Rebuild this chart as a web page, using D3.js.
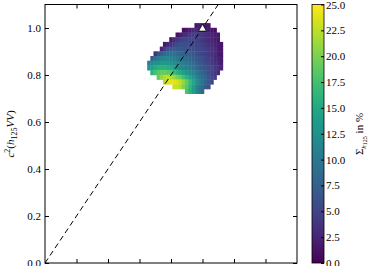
<!DOCTYPE html>
<html>
<head>
<meta charset="utf-8">
<script src="https://cdn.jsdelivr.net/npm/d3@7"></script>
<style>
  body { margin: 0; background: #fff; }
  svg text { font-family: "Liberation Serif", serif; font-size: 11px; fill: #000; }
</style>
</head>
<body>
<div id="chart"></div>
<script>
// Scan cloud, read off the picture as a coarse grid (cell step 0.02)
// one row per c2(h125VV) value, starting at rowX0, values = Sigma in %
var rowY  = [1.01, 0.99, 0.97, 0.95, 0.93, 0.91, 0.89, 0.87, 0.85, 0.83, 0.81, 0.79, 0.77, 0.75, 0.73];
var rowX0 = [0.96, 0.88, 0.84, 0.80, 0.76, 0.74, 0.70, 0.68, 0.66, 0.66, 0.68, 0.72, 0.76, 0.82, 0.90];
var rowValues = [
    [1.5, 2, 2, 1.5, 1.5],
    [1, 1.5, 2, 2.5, 3, 3, 3, 2.5, 2, 1.5, 1],
    [1, 2, 3, 3.5, 4, 4.5, 4.5, 4.5, 4, 3.5, 3, 2.5, 2, 1.5],
    [1.5, 3, 4, 4.5, 5, 5, 5, 5, 5, 4.5, 4, 3.5, 3, 2.5, 2, 1.5],
    [1.5, 2.5, 3.5, 4.5, 5.5, 6, 6, 6, 5.5, 5.5, 5, 5, 4.5, 4, 3.5, 3, 2.5, 2, 1.5],
    [2.5, 4.5, 6, 6.5, 7, 7, 7, 6.5, 6.5, 6, 6, 5.5, 5.5, 5, 4.5, 4, 3.5, 3, 2, 1.5],
    [3.5, 6, 7.5, 8.5, 9, 9, 9, 8.5, 8, 7.5, 7, 7, 6.5, 6, 5.5, 5, 4.5, 4, 3.5, 3, 2, 1.5],
    [7, 9, 10.5, 11, 11.5, 11.5, 11, 10.5, 10, 9.5, 9, 8.5, 8, 7.5, 7, 6.5, 6, 5, 4.5, 4, 3, 2.5, 2],
    [10.5, 11.5, 12.5, 13, 13.5, 13.5, 13, 12.5, 12, 11.5, 11, 10.5, 10, 9, 8.5, 8, 7, 6.5, 5.5, 5, 4, 3.5, 3, 2],
    [13, 14, 15, 16, 16, 16, 15.5, 15, 14, 13, 12, 11.5, 11, 10, 9.5, 8.5, 7.5, 7, 6.5, 5.5, 5, 4, 3.5, 2.5],
    [16, 17.5, 18.5, 19, 19, 18.5, 18, 17, 16, 15, 14, 13, 12, 11, 10, 9, 8, 7, 6, 5, 4, 3],
    [19, 21, 22, 22.5, 22, 21, 20, 19, 17.5, 16, 14.5, 13, 11.5, 10, 9, 8, 6.5, 5.5, 4.5],
    [22, 23.5, 24, 24, 23.5, 22.5, 21, 19, 17, 15, 13, 11, 9.5, 8, 6.5, 5],
    [23, 23, 22, 20, 18.5, 16.5, 14, 12, 10, 8.5, 7, 6],
    [18, 16, 14, 12, 10, 8.5]
];
var gridStep = 0.02;

// SM point
var smPoint = [1.0, 1.0];

var yTicks = [0.0, 0.2, 0.4, 0.6, 0.8, 1.0];
var xTicks = [0.2, 0.4, 0.6, 0.8, 1.0, 1.2, 1.4];
var cbTicks = [0, 2.5, 5, 7.5, 10, 12.5, 15, 17.5, 20, 22.5, 25];

// flatten the rows into cells
var cells = [];
rowValues.forEach(function (vals, i) {
    vals.forEach(function (v, j) {
        cells.push({ x: rowX0[i] + j * gridStep, y: rowY[i], v: v });
    });
});

var W = 373, H = 266;
var svg = d3.select("#chart").append("svg")
    .attr("width", W).attr("height", H);

var x = d3.scaleLinear().domain([0, 1.6]).range([45, 297]);
var y = d3.scaleLinear().domain([0, 1.1]).range([263, 4.5]);
var color = d3.scaleSequential(d3.interpolateViridis).domain([0, 25]);

svg.append("clipPath").attr("id", "plotclip")
    .append("rect")
    .attr("x", x(0)).attr("y", y(1.1))
    .attr("width", x(1.6) - x(0)).attr("height", y(0) - y(1.1));

var plot = svg.append("g").attr("clip-path", "url(#plotclip)");

// cloud
var cw = x(gridStep) - x(0), ch = y(0) - y(gridStep);
plot.selectAll("rect.cell")
    .data(cells)
    .enter().append("rect")
    .attr("class", "cell")
    .attr("x", function (d) { return x(d.x) - cw / 2 - 0.2; })
    .attr("y", function (d) { return y(d.y) - ch / 2 - 0.2; })
    .attr("width", cw + 0.4)
    .attr("height", ch + 0.4)
    .attr("fill", function (d) { return color(d.v); });

// diagonal
plot.append("line")
    .attr("x1", x(0)).attr("y1", y(0))
    .attr("x2", x(1.1)).attr("y2", y(1.1))
    .attr("stroke", "#000")
    .attr("stroke-width", 1)
    .attr("stroke-dasharray", "5.5,3.5");

// SM marker
plot.append("path")
    .attr("d", d3.symbol().type(d3.symbolTriangle).size(28)())
    .attr("transform", "translate(" + x(smPoint[0]) + "," + (y(smPoint[1]) + 0.8) + ")")
    .attr("fill", "#fff")
    .attr("stroke", "#000")
    .attr("stroke-width", 0.8);

// axes, ticks pointing inside
function cleanAxis(g) {
    g.select(".domain").remove();
    g.attr("font-family", "Liberation Serif, serif").attr("font-size", 11);
}
svg.append("g")
    .attr("transform", "translate(" + x(0) + ",0)")
    .call(d3.axisLeft(y).tickValues(yTicks).tickSize(-4).tickPadding(4)
        .tickFormat(d3.format(".1f")))
    .call(cleanAxis);
svg.append("g")
    .attr("transform", "translate(" + x(1.6) + ",0)")
    .call(d3.axisRight(y).tickValues(yTicks).tickSize(-4).tickFormat(""))
    .call(cleanAxis);
svg.append("g")
    .attr("transform", "translate(0," + y(0) + ")")
    .call(d3.axisBottom(x).tickValues(xTicks).tickSize(-4).tickFormat(""))
    .call(cleanAxis);
svg.append("g")
    .attr("transform", "translate(0," + y(1.1) + ")")
    .call(d3.axisTop(x).tickValues(xTicks).tickSize(-4).tickFormat(""))
    .call(cleanAxis);

svg.append("rect")
    .attr("x", x(0)).attr("y", y(1.1))
    .attr("width", x(1.6) - x(0)).attr("height", y(0) - y(1.1))
    .attr("fill", "none").attr("stroke", "#000").attr("stroke-width", 1);

// y label
var yl = svg.append("text")
    .attr("transform", "translate(14,134) rotate(-90)")
    .attr("text-anchor", "middle");
yl.append("tspan").attr("font-style", "italic").text("c");
yl.append("tspan").attr("font-size", "8px").attr("dy", -4).text("2");
yl.append("tspan").attr("dy", 4).text("(");
yl.append("tspan").attr("font-style", "italic").text("h");
yl.append("tspan").attr("font-size", "8px").attr("dy", 2.5).text("125");
yl.append("tspan").attr("font-style", "italic").attr("dy", -2.5).text("VV");
yl.append("tspan").text(")");

// colorbar
var cb = d3.scaleLinear().domain([0, 25]).range([263, 4.5]);
var grad = svg.append("defs").append("linearGradient")
    .attr("id", "cbgrad")
    .attr("x1", 0).attr("y1", 1).attr("x2", 0).attr("y2", 0);
d3.range(0, 1.001, 0.05).forEach(function (t) {
    grad.append("stop").attr("offset", t).attr("stop-color", d3.interpolateViridis(t));
});
svg.append("rect")
    .attr("x", 312).attr("y", cb(25))
    .attr("width", 12).attr("height", cb(0) - cb(25))
    .attr("fill", "url(#cbgrad)")
    .attr("stroke", "#000").attr("stroke-width", 0.8);
svg.append("g")
    .attr("transform", "translate(324,0)")
    .call(d3.axisRight(cb).tickValues(cbTicks).tickSize(-3).tickPadding(2)
        .tickFormat(d3.format(".1f")))
    .call(cleanAxis);

var cl = svg.append("text")
    .attr("transform", "translate(363,134) rotate(-90)")
    .attr("text-anchor", "middle");
cl.append("tspan").text("Σ");
cl.append("tspan").attr("font-size", "7px").attr("font-style", "italic").attr("dy", 2.5).text("h");
cl.append("tspan").attr("font-size", "6px").attr("dy", 1).text("125");
cl.append("tspan").attr("dy", -3.5).text(" in %");
</script>
</body>
</html>
